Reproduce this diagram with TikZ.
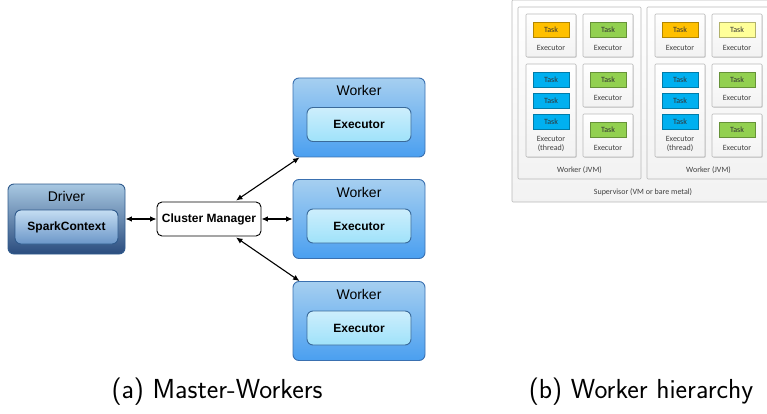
\documentclass[tikz,border=0pt]{standalone}
\usepackage{fontspec}
\newfontfamily\arialf{Liberation Sans}
\newfontfamily\calif{Carlito}
\usetikzlibrary{arrows.meta,calc,shadows}
\definecolor{wtop}{HTML}{A6CFF0}
\definecolor{wbot}{HTML}{4A9FF0}
\definecolor{wbrd}{HTML}{3A70B0}
\definecolor{etop}{HTML}{CDEEFC}
\definecolor{ebot}{HTML}{9FE2FA}
\definecolor{ebrd}{HTML}{3A6A9A}
\definecolor{dtop}{HTML}{A8C8E2}
\definecolor{dbot}{HTML}{2A4C7E}
\definecolor{dbrd}{HTML}{2F5A8C}
\definecolor{stop}{HTML}{C4DDF2}
\definecolor{sbot}{HTML}{6B96C8}
\definecolor{torange}{HTML}{FFC000}
\definecolor{tgreen}{HTML}{92D050}
\definecolor{tblue}{HTML}{00B0F0}
\definecolor{tyellow}{HTML}{FFFF99}
\tikzset{
  mbox/.style={rounded corners=6pt, line width=0.9pt, inner sep=0pt},
  workerbox/.style={mbox, draw=wbrd, top color=wtop, bottom color=wbot, minimum width=132pt, minimum height=79pt},
  execbox/.style={mbox, draw=ebrd, top color=etop, bottom color=ebot, minimum width=104pt, minimum height=34pt, font=\arialf\bfseries\fontsize{12}{14}\selectfont},
  driverbox/.style={mbox, draw=dbrd, top color=dtop, bottom color=dbot, minimum width=117pt, minimum height=70pt},
  sparkbox/.style={mbox, draw=dbrd, top color=stop, bottom color=sbot, minimum width=103pt, minimum height=34pt, font=\arialf\bfseries\fontsize{12}{14}\selectfont},
  cmbox/.style={rounded corners=5pt, draw=black, line width=0.9pt, fill=white, minimum width=104pt, minimum height=34pt, inner sep=0pt, font=\arialf\bfseries\fontsize{12}{14}\selectfont},
  boxlabel/.style={font=\arialf\fontsize{14}{16}\selectfont, inner sep=0pt},
  link/.style={{Latex[length=6.5pt,width=5.5pt]}-{Latex[length=6.5pt,width=5.5pt]}, line width=1.1pt},
  gbox/.style={draw=gray!55, line width=0.6pt, rounded corners=1pt, top color=white, bottom color=gray!10, inner sep=0pt},
  exbox/.style={gbox, minimum width=50pt, drop shadow={shadow xshift=0.8pt, shadow yshift=-0.8pt, opacity=0.25}},
  taskbox/.style={draw=#1!70!black, fill=#1, line width=0.5pt, minimum width=36pt, minimum height=15pt, inner sep=0pt, font=\calif\fontsize{8}{9}\selectfont, text=black!80},
  smalltxt/.style={font=\calif\fontsize{8}{9}\selectfont, inner sep=0pt, text=black!75},
  caption/.style={font=\sffamily\fontsize{27.5}{32}\selectfont, inner sep=0pt}
}
\begin{document}
\begin{tikzpicture}[x=1pt,y=-1pt]
\useasboundingbox (0,0) rectangle (767,414);
\begin{scope}
\clip (0,0) rectangle (767,414);
% ---------- (a) Master-Workers ----------
\node[driverbox] (driver) at (66.5,219) {};
\node[boxlabel] (driverlbl) at (66.5,196) {Driver};
\node[sparkbox] (spark) at (66.5,227) {SparkContext};
\node[cmbox] (cm) at (209,219) {Cluster Manager};
\foreach \i/\y in {1/117.5,2/219,3/321}{
  \node[workerbox] (w\i) at (359,\y) {};
  \node[boxlabel] (wl\i) at ($(w\i.north)+(0,13)$) {Worker};
  \node[execbox] (e\i) at ($(w\i.center)+(0,7)$) {Executor};
}
\draw[link] (driver.east) -- (cm.west);
\draw[link] (cm.east) -- (w2.west);
\draw[link] ($(cm.north)+(27,-1)$) -- ($(w1.south west)+(7,0)$);
\draw[link] ($(cm.south)+(27,1)$) -- ($(w3.north west)+(7,0)$);
\node[caption] (capa) at (217,392) {(a) Master-Workers};
% ---------- (b) Worker hierarchy ----------
\node[gbox, minimum width=263pt, minimum height=202pt] (sup) at (643.5,101) {};
\node[smalltxt] (suplbl) at (643,192) {Supervisor (VM or bare metal)};
\foreach \k/\dx/\tc in {1/0/tgreen,2/129/tyellow}{
  \begin{scope}[xshift=\dx]
  \node[gbox, minimum width=123pt, minimum height=172pt] (wk\k) at (579.5,93) {};
  \node[smalltxt] (wkl\k) at (579.5,170) {Worker (JVM)};
  % row 1
  \node[exbox, minimum height=43pt] (xa\k) at (551,35.5) {};
  \node[taskbox=torange] (ta\k) at (551,29.5) {Task};
  \node[smalltxt] (la\k) at (551,48) {Executor};
  \node[exbox, minimum height=43pt] (xb\k) at (608,35.5) {};
  \node[taskbox=\tc] (tb\k) at (608,29.5) {Task};
  \node[smalltxt] (lb\k) at (608,48) {Executor};
  % tall executor
  \node[exbox, minimum height=93pt] (xc\k) at (551,110.5) {};
  \node[taskbox=tblue] (tc\k) at (551,79.5) {Task};
  \node[taskbox=tblue] (td\k) at (551,100.5) {Task};
  \node[taskbox=tblue] (te\k) at (551,121.5) {Task};
  \node[smalltxt] (lc\k) at (551,138.5) {Executor};
  \node[smalltxt] (ld\k) at (551,148.5) {(thread)};
  % col 2 rows 2-3
  \node[exbox, minimum height=43pt] (xd\k) at (608,85.5) {};
  \node[taskbox=tgreen] (tf\k) at (608,79.5) {Task};
  \node[smalltxt] (le\k) at (608,98) {Executor};
  \node[exbox, minimum height=43pt] (xe\k) at (608,135.5) {};
  \node[taskbox=tgreen] (tg\k) at (608,129.5) {Task};
  \node[smalltxt] (lf\k) at (608,148) {Executor};
  \end{scope}
}
\end{scope}
\node[caption] (capb) at (641,392) {(b) Worker hierarchy};
\end{tikzpicture}
\end{document}
